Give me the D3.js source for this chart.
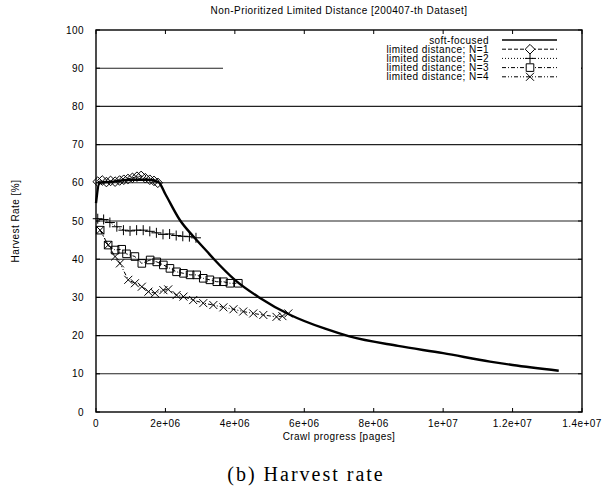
<!DOCTYPE html>
<html lang="en">
<head>
<meta charset="UTF-8">
<title>Harvest rate</title>
<script src="https://d3js.org/d3.v7.min.js"></script>
<style>
  body { margin: 0; background: #fff; }
  svg text { font-family: "Liberation Sans", Arial, sans-serif; fill: #000; letter-spacing: 0.45px; }
</style>
</head>
<body>
<svg id="chart" width="603" height="488"></svg>
<script>
// ---- data (x in pages, y in %) ----
var softX = [0, 0.1e6, 0.5e6, 1.0e6, 1.5e6, 1.8e6, 2.0e6, 2.42e6, 2.8e6, 3.2e6, 3.4e6, 4.0e6, 4.7e6, 5.6e6, 6.6e6, 7.3e6, 8.7e6, 1.0e7, 1.135e7, 1.2e7, 1.333e7];
var softY = [54.7, 60, 60.3, 60.8, 60.8, 60.2, 57, 50.2, 46, 42, 40, 34.6, 30, 25.4, 21.8, 19.8, 17.3, 15.4, 13.2, 12.3, 10.8];

var n1X = [0.05e6, 0.18e6, 0.3e6, 0.42e6, 0.55e6, 0.68e6, 0.8e6, 0.92e6, 1.05e6, 1.18e6, 1.3e6, 1.42e6, 1.55e6, 1.67e6, 1.78e6];
var n1Y = [60.3, 60.6, 60.2, 60.5, 60.3, 60.6, 60.8, 61.0, 61.3, 61.6, 61.8, 61.2, 60.8, 60.5, 60.0];

var n2X = [0.05e6, 0.22e6, 0.4e6, 0.6e6, 0.79e6, 0.98e6, 1.17e6, 1.36e6, 1.55e6, 1.74e6, 1.93e6, 2.12e6, 2.31e6, 2.5e6, 2.69e6, 2.88e6];
var n2Y = [50.6, 50.4, 49.6, 48.5, 47.6, 47.4, 47.6, 47.6, 47.3, 46.9, 46.5, 46.6, 46.2, 46.0, 45.9, 45.6];

var n3X = [0.12e6, 0.35e6, 0.55e6, 0.74e6, 0.88e6, 1.12e6, 1.32e6, 1.56e6, 1.75e6, 1.94e6, 2.13e6, 2.32e6, 2.52e6, 2.71e6, 2.9e6, 3.09e6, 3.28e6, 3.48e6, 3.67e6, 3.86e6, 4.1e6];
var n3Y = [47.6, 43.7, 42.4, 42.6, 41.4, 40.7, 38.9, 39.8, 39.3, 38.5, 37.6, 36.7, 36.3, 35.9, 35.9, 35.0, 34.6, 34.1, 34.1, 33.7, 33.7];

var n4X = [0.12e6, 0.35e6, 0.55e6, 0.69e6, 0.93e6, 1.12e6, 1.32e6, 1.51e6, 1.7e6, 1.94e6, 2.08e6, 2.32e6, 2.52e6, 2.8e6, 3.09e6, 3.38e6, 3.67e6, 3.96e6, 4.24e6, 4.53e6, 4.82e6, 5.2e6, 5.37e6, 5.54e6];
var n4Y = [47.6, 43.7, 40.7, 38.9, 34.6, 33.7, 32.8, 31.5, 31.1, 31.9, 32.1, 30.6, 30.2, 29.3, 28.5, 28.0, 27.4, 26.9, 26.3, 25.8, 25.4, 24.9, 25.1, 25.8];

var seriesNames = ["soft-focused", "limited distance; N=1", "limited distance; N=2", "limited distance; N=3", "limited distance; N=4"];

var xTicks = [0, 2e6, 4e6, 6e6, 8e6, 1e7, 1.2e7, 1.4e7];
var xTickLabels = ["0", "2e+06", "4e+06", "6e+06", "8e+06", "1e+07", "1.2e+07", "1.4e+07"];
var yTicks = [0, 10, 20, 30, 40, 50, 60, 70, 80, 90, 100];

// ---- layout ----
var pL = 96, pR = 582, pT = 30, pB = 412;
var svg = d3.select("#chart");

var x = d3.scaleLinear().domain([0, 1.4e7]).range([pL, pR]);
var y = d3.scaleLinear().domain([0, 100]).range([pB, pT]);

// grid lines
svg.append("g").selectAll("line").data(yTicks.slice(1, -1)).join("line")
  .attr("x1", pL).attr("x2", pR)
  .attr("y1", function(d) { return y(d); }).attr("y2", function(d) { return y(d); })
  .attr("stroke", "#222").attr("stroke-width", 1.1);

// inward ticks on all sides
var tk = svg.append("g").attr("stroke", "#000").attr("stroke-width", 1);
xTicks.forEach(function(t) {
  tk.append("line").attr("x1", x(t)).attr("x2", x(t)).attr("y1", pB).attr("y2", pB - 4);
  tk.append("line").attr("x1", x(t)).attr("x2", x(t)).attr("y1", pT).attr("y2", pT + 4);
});
yTicks.forEach(function(t) {
  tk.append("line").attr("x1", pL).attr("x2", pL + 4).attr("y1", y(t)).attr("y2", y(t));
  tk.append("line").attr("x1", pR).attr("x2", pR - 4).attr("y1", y(t)).attr("y2", y(t));
});

// legend background (hides grid behind key)
svg.append("rect").attr("x", 223).attr("y", pT + 5).attr("width", pR - 223 - 1).attr("height", 50)
  .attr("fill", "#fff");

// tick labels
svg.append("g").selectAll("text").data(xTicks).join("text")
  .attr("x", function(d) { return x(d); }).attr("y", 427)
  .attr("text-anchor", "middle").attr("font-size", 10)
  .text(function(d, i) { return xTickLabels[i]; });
svg.append("g").selectAll("text").data(yTicks).join("text")
  .attr("x", 84).attr("y", function(d) { return y(d) + 3.5; })
  .attr("text-anchor", "end").attr("font-size", 10)
  .text(function(d) { return d; });

// markers
function markerPath(type, cx, cy) {
  var p = d3.path();
  if (type === "diamond") {
    var r = 4.8;
    p.moveTo(cx, cy - r); p.lineTo(cx + r, cy); p.lineTo(cx, cy + r); p.lineTo(cx - r, cy); p.closePath();
  } else if (type === "plus") {
    var r2 = 5;
    p.moveTo(cx - r2, cy); p.lineTo(cx + r2, cy); p.moveTo(cx, cy - r2); p.lineTo(cx, cy + r2);
  } else if (type === "square") {
    var r3 = 3.8;
    p.rect(cx - r3, cy - r3, 2 * r3, 2 * r3);
  } else if (type === "cross") {
    var r4 = 4;
    p.moveTo(cx - r4, cy - r4); p.lineTo(cx + r4, cy + r4); p.moveTo(cx - r4, cy + r4); p.lineTo(cx + r4, cy - r4);
  }
  return p.toString();
}

var series = [
  { xs: n4X, ys: n4Y, dash: "4,2,1,2,1,2", marker: "cross" },
  { xs: n3X, ys: n3Y, dash: "4,2,1,2", marker: "square" },
  { xs: n2X, ys: n2Y, dash: "1,2", marker: "plus" },
  { xs: n1X, ys: n1Y, dash: "4,2", marker: "diamond" }
];

var line = d3.line().x(function(d) { return x(d[0]); }).y(function(d) { return y(d[1]); });

series.forEach(function(s) {
  var pts = d3.zip(s.xs, s.ys);
  svg.append("path").datum(pts).attr("d", line)
    .attr("fill", "none").attr("stroke", "#000").attr("stroke-width", 1)
    .attr("stroke-dasharray", s.dash);
  svg.append("g").selectAll("path").data(pts).join("path")
    .attr("d", function(d) { return markerPath(s.marker, x(d[0]), y(d[1])); })
    .attr("fill", "none").attr("stroke", "#000").attr("stroke-width", 1);
});

// soft-focused thick line
svg.append("path").datum(d3.zip(softX, softY)).attr("d", line.curve(d3.curveMonotoneX))
  .attr("fill", "none").attr("stroke", "#000").attr("stroke-width", 2.4)
  .attr("stroke-linejoin", "round");

// border
svg.append("rect").attr("x", pL).attr("y", pT).attr("width", pR - pL).attr("height", pB - pT)
  .attr("fill", "none").attr("stroke", "#000").attr("stroke-width", 1.4);

// legend
var legendStyles = [
  { dash: null, marker: null, w: 1.4 },
  { dash: "4,2", marker: "diamond", w: 1 },
  { dash: "1,2", marker: "plus", w: 1 },
  { dash: "4,2,1,2", marker: "square", w: 1 },
  { dash: "4,2,1,2,1,2", marker: "cross", w: 1 }
];
var lg = svg.append("g");
seriesNames.forEach(function(name, i) {
  var ly = 40 + i * 9.2;
  lg.append("text").attr("x", 489).attr("y", ly + 3.5).attr("text-anchor", "end")
    .attr("font-size", 10).text(name);
  lg.append("line").attr("x1", 502).attr("x2", 557).attr("y1", ly).attr("y2", ly)
    .attr("stroke", "#000").attr("stroke-width", legendStyles[i].w)
    .attr("stroke-dasharray", legendStyles[i].dash);
  if (legendStyles[i].marker) {
    lg.append("path").attr("d", markerPath(legendStyles[i].marker, 530, ly))
      .attr("fill", "#fff").attr("stroke", "#000");
  }
});

// titles
svg.append("text").attr("x", (pL + pR) / 2).attr("y", 14).attr("text-anchor", "middle")
  .attr("font-size", 10).text("Non-Prioritized Limited Distance [200407-th Dataset]");
svg.append("text").attr("x", (pL + pR) / 2).attr("y", 440).attr("text-anchor", "middle")
  .attr("font-size", 10).text("Crawl progress [pages]");
svg.append("text").attr("transform", "translate(19," + ((pT + pB) / 2) + ") rotate(-90)")
  .attr("text-anchor", "middle").attr("font-size", 10).text("Harvest Rate [%]");
svg.append("text").attr("x", 306).attr("y", 481).attr("text-anchor", "middle")
  .attr("font-size", 20)
  .style("letter-spacing", "2px")
  .style("font-family", "'Liberation Serif', 'Times New Roman', serif")
  .text("(b) Harvest rate");
</script>
</body>
</html>
